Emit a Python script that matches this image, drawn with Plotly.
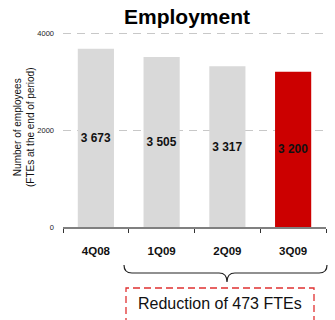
import plotly.graph_objects as go

# Quarter-end headcount (FTEs)
quarters = ["4Q08", "1Q09", "2Q09", "3Q09"]
employees = [3673, 3505, 3317, 3200]
value_labels = ["3 673", "3 505", "3 317", "3 200"]
bar_colors = ["#d9d9d9", "#d9d9d9", "#d9d9d9", "#cc0000"]
y_ticks = [0, 2000, 4000]

FONT = "Arial, Liberation Sans, sans-serif"

fig = go.Figure()
fig.add_trace(go.Bar(
    x=quarters,
    y=employees,
    text=value_labels,
    textposition="inside",
    insidetextanchor="middle",
    textangle=0,
    textfont=dict(family=FONT, size=12, color="#111111", weight="bold"),
    marker=dict(color=bar_colors, line=dict(width=0)),
    width=0.55,
    hoverinfo="skip",
))

# Plot area: top margin leaves a little headroom above the 4000 gridline
LEFT, RIGHT, TOP, BOTTOM = 63, 9, 31, 93
PLOT_W = 335 - LEFT - RIGHT
PLOT_H = 320 - TOP - BOTTOM
Y_MAX = 4000 * PLOT_H / (PLOT_H - 2)


def py(pixel_y):
    """Convert a pixel row in the figure to paper y."""
    return (320 - BOTTOM - pixel_y) / PLOT_H


def px(pixel_x):
    """Convert a pixel column in the figure to paper x."""
    return (pixel_x - LEFT) / PLOT_W


# Curly brace spanning 1Q09-3Q09 (paper coordinates)
xl, xm, xr = px(124), px(227), px(327)
yt, ymid, yb = py(265), py(273), py(282)
r = 0.03
brace = (
    f"M {xl},{yt} Q {xl},{ymid} {xl + r},{ymid} "
    f"L {xm - r},{ymid} Q {xm},{ymid} {xm},{yb} "
    f"Q {xm},{ymid} {xm + r},{ymid} "
    f"L {xr - r},{ymid} Q {xr},{ymid} {xr},{yt}"
)
fig.add_shape(type="path", path=brace, xref="paper", yref="paper",
              line=dict(color="#222222", width=1.2))

# Dashed callout box
fig.add_shape(type="rect", xref="paper", yref="paper",
              x0=px(126), x1=px(314), y0=py(322), y1=py(288),
              line=dict(color="#e03030", width=1.3, dash="7px,4px"),
              fillcolor="rgba(0,0,0,0)")
fig.add_annotation(text="Reduction of 473 FTEs", xref="paper", yref="paper",
                   x=px(220), y=py(303), xanchor="center", yanchor="middle",
                   showarrow=False,
                   font=dict(family=FONT, size=16, color="#111111"))

# Y-axis title
fig.add_annotation(text="Number of employees<br>(FTEs at the end of period)",
                   xref="paper", yref="paper", x=px(24), y=py(127),
                   xanchor="center", yanchor="middle", textangle=-90,
                   showarrow=False,
                   font=dict(family=FONT, size=10, color="#111111"))

fig.update_layout(
    width=335, height=320,
    margin=dict(l=LEFT, r=RIGHT, t=TOP, b=BOTTOM),
    paper_bgcolor="white", plot_bgcolor="white",
    showlegend=False,
    bargap=0.45,
    title=dict(text="<b>Employment</b>", x=0.4715, xref="paper", xanchor="center",
               y=1 - 17 / 320, yref="container", yanchor="middle",
               font=dict(family=FONT, size=21, color="#000000")),
    font=dict(family=FONT),
)

fig.update_xaxes(
    type="category",
    range=[-0.5, 3.5],
    showline=True, linecolor="#808080", linewidth=2,
    ticks="outside", tickson="boundaries", ticklen=4, tickcolor="#333333", tickwidth=1,
    tickfont=dict(family=FONT, size=11.5, color="#111111", weight="bold"),
    ticklabelstandoff=12,
    showgrid=False,
)
fig.update_yaxes(
    range=[0, Y_MAX],
    tickvals=y_ticks,
    ticktext=[str(v) for v in y_ticks],
    tickfont=dict(family=FONT, size=7.5, color="#222222"),
    ticklabelstandoff=8,
    showgrid=True, gridcolor="#c8c8c8", gridwidth=1, griddash="8px,6px",
    zeroline=False, showline=False,
)

fig.write_html("out.html")
